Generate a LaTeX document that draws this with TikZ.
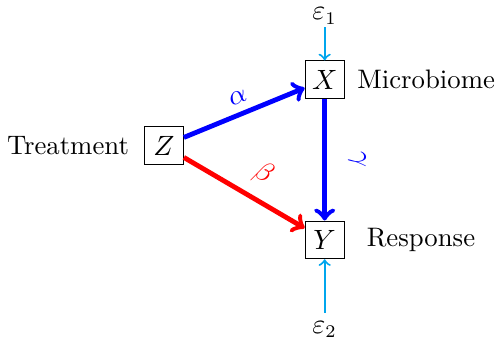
\documentclass[tikz,border=0pt]{standalone}
\usetikzlibrary{positioning}
\definecolor{noisecol}{RGB}{0,166,237}
\begin{document}
\begin{tikzpicture}[x=1cm,y=1cm,
    every node/.style={font=\fontsize{10.5pt}{12.6pt}\selectfont},
    var/.style={draw, minimum width=0.54cm, minimum height=0.52cm, inner sep=2pt},
    effect/.style={->, line width=1.9pt},
    noise/.style={->, thick, noisecol}]
    % fixed frame of the picture
    \useasboundingbox (-2.26,-2.72) rectangle (4.57,2.01);
    % variables
    \node[var] (Z) at (0,0) {$Z$};
    \node[var] (X) at (2.22,0.91) {$X$};
    \node[var] (Y) at (2.22,-1.30) {$Y$};
    \node[left=0.08cm of Z] (treat) {Treatment};
    \node[right=0.05cm of X] (micro) {Microbiome};
    \node[right=0.18cm of Y] (resp) {Response};
    % noise terms
    \node[inner sep=1pt] (e1) at (2.22,1.79) {$\varepsilon_1$};
    \node (e2) at (2.22,-2.54) {$\varepsilon_2$};
    % paths
    \draw[effect, blue] (Z) -- (X) node[midway, above, sloped] {$\alpha$};
    \draw[effect, red] (Z) -- (Y) node[pos=0.55, above=1pt, sloped] {$\beta$};
    \draw[effect, blue] (X) -- (Y) node[midway, above=5pt, sloped] {$\gamma$};
    \draw[noise] (e1) -- (X);
    \draw[noise] (e2) -- (Y);
\end{tikzpicture}
\end{document}
